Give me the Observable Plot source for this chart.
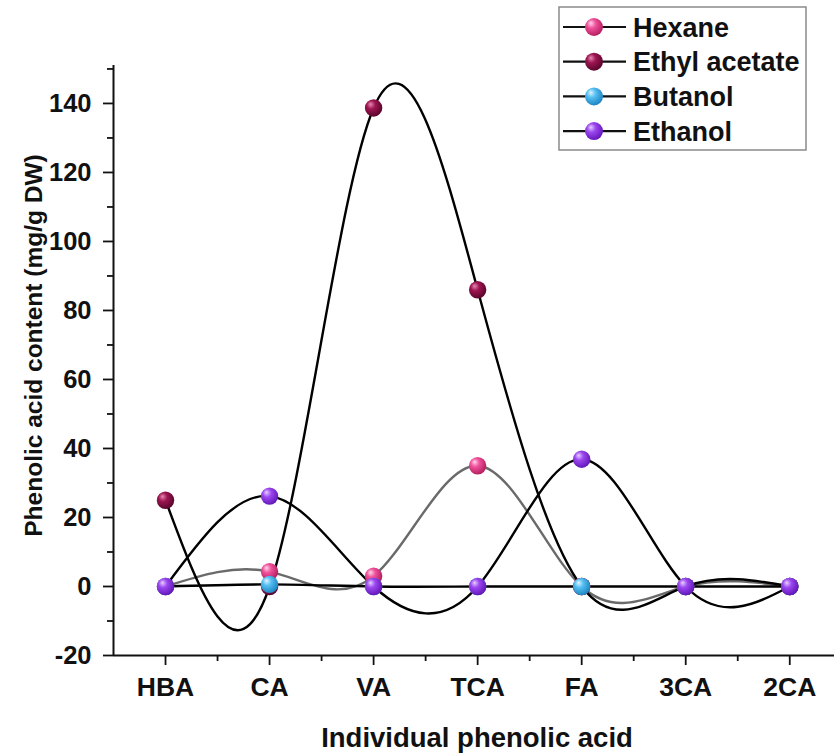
<!DOCTYPE html>
<html>
<head>
<meta charset="utf-8">
<script src="https://cdn.jsdelivr.net/npm/d3@7"></script>
<script src="https://cdn.jsdelivr.net/npm/@observablehq/plot@0.6"></script>
<style>
  html, body { margin: 0; padding: 0; background: #fff; }
  #chart svg { display: block; }
</style>
</head>
<body>
<div id="chart"></div>
<script>
// ---- data ----
const categories = ["HBA", "CA", "VA", "TCA", "FA", "3CA", "2CA"];
const seriesNames = ["Hexane", "Ethyl acetate", "Butanol", "Ethanol"];
const hexane = [0, 4.3, 3, 35, 0, 0, 0];
const ethylAcetate = [25, 0, 138.7, 86, 0, 0, 0];
const butanol = [0, 0.6, 0, 0, 0, 0, 0];
const ethanol = [0, 26.2, 0, 0, 36.9, 0, 0];
const yTicks = [-20, 0, 20, 40, 60, 80, 100, 120, 140];
const yMinorTicks = [-10, 10, 30, 50, 70, 90, 110, 130, 150];

// ---- styles ----
const dotColors = [
  {base: "#f0519c", dark: "#b5205f", light: "#ffd6ea"},
  {base: "#9e1552", dark: "#5a062c", light: "#e48ab0"},
  {base: "#55bff2", dark: "#1f86c2", light: "#e0f5ff"},
  {base: "#9c47f0", dark: "#6418ba", light: "#e6d0ff"}
];
const lineColors = ["#6a6a6a", "#000", "#000", "#000"];

const seriesValues = [hexane, ethylAcetate, butanol, ethanol];
const data = seriesNames.map((name, s) =>
  categories.map((c, i) => ({series: name, s, i, cat: c, value: seriesValues[s][i]}))
);

const xDomain = [-0.5, 6.43];
const yDomain = [-20, 151];

const defsMark = () => {
  const defs = d3.create("svg:defs");
  dotColors.forEach((c, s) => {
    const g = defs.append("radialGradient")
      .attr("id", "ball" + s)
      .attr("cx", "40%").attr("cy", "38%").attr("r", "62%")
      .attr("fx", "32%").attr("fy", "28%");
    g.append("stop").attr("offset", "0%").attr("stop-color", c.light);
    g.append("stop").attr("offset", "40%").attr("stop-color", c.base);
    g.append("stop").attr("offset", "100%").attr("stop-color", c.dark);
  });
  return defs.node();
};

const legendMark = () => {
  const g = d3.create("svg:g").attr("font-size", 27).attr("font-weight", "bold")
    .attr("text-anchor", "start");
  const x0 = 559, y0 = 7, w = 247, h = 143;
  g.append("rect").attr("x", x0).attr("y", y0).attr("width", w).attr("height", h)
    .attr("fill", "white").attr("stroke", "#8a8a8a").attr("stroke-width", 1.5);
  seriesNames.forEach((name, s) => {
    const cy = 27 + s * 34.7;
    g.append("line").attr("x1", 563).attr("x2", 626).attr("y1", cy).attr("y2", cy)
      .attr("stroke", "#111").attr("stroke-width", 2.2);
    g.append("circle").attr("cx", 594).attr("cy", cy).attr("r", 9)
      .attr("fill", `url(#ball${s})`);
    g.append("text").attr("x", 633).attr("y", cy).attr("dy", "0.36em")
      .attr("text-anchor", "start").attr("fill", "#111").text(name);
  });
  return g.node();
};

const lineMarks = data.map((d, s) =>
  Plot.line(d, {x: "i", y: "value", curve: "natural", stroke: lineColors[s], strokeWidth: 2.4})
);
const dotMarks = data.map((d, s) =>
  Plot.dot(d, {x: "i", y: "value", r: 8.7, fill: `url(#ball${s})`, stroke: "none"})
);

const chart = Plot.plot({
  width: 834,
  height: 753,
  marginLeft: 113,
  marginRight: 0,
  marginTop: 65,
  marginBottom: 98,
  style: {fontFamily: "'Liberation Sans', Arial, sans-serif", fontWeight: "bold", color: "#111", background: "white", overflow: "visible"},
  x: {domain: xDomain, axis: null},
  y: {domain: yDomain, axis: null},
  marks: [
    defsMark,
    ...lineMarks,
    ...dotMarks,
    Plot.ruleX([xDomain[0]], {stroke: "#111", strokeWidth: 2}),
    Plot.ruleY([yDomain[0]], {stroke: "#111", strokeWidth: 2}),
    Plot.axisY(yTicks, {tickSize: 10, tickPadding: 12, fontSize: 25.5, strokeWidth: 1.8, tickFormat: d => String(d), label: null}),
    Plot.axisY(yMinorTicks.filter(v => v <= yDomain[1]), {tickSize: 6, strokeWidth: 1.8, tickFormat: () => "", label: null}),
    Plot.axisX(d3.range(categories.length), {tickSize: 10, tickPadding: 12, fontSize: 26.5, strokeWidth: 1.8, tickFormat: i => categories[i], label: null}),
    Plot.axisX(d3.range(0.5, 6.5, 1), {tickSize: 6, strokeWidth: 1.8, tickFormat: () => "", label: null}),
    Plot.text(["Phenolic acid content (mg/g DW)"], {frameAnchor: "left", textAnchor: "middle", lineAnchor: "middle", rotate: -90, dx: -79, dy: -15, fontSize: 24.5, fontWeight: "bold", fill: "#111"}),
    Plot.text(["Individual phenolic acid"], {frameAnchor: "bottom", textAnchor: "middle", lineAnchor: "middle", dy: 83, dx: 3, fontSize: 27.5, fontWeight: "bold", fill: "#111"}),
    legendMark
  ]
});

document.getElementById("chart").append(chart);
</script>
</body>
</html>
